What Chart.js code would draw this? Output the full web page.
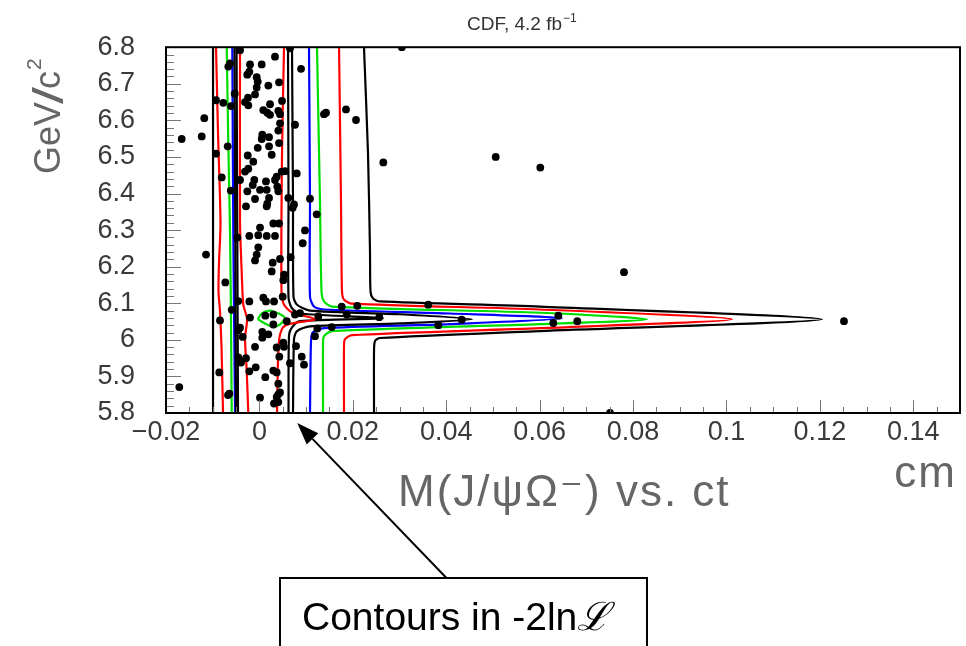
<!DOCTYPE html>
<html><head><meta charset="utf-8">
<script src="https://cdn.jsdelivr.net/npm/chart.js@4.4.1/dist/chart.umd.min.js"></script>
<style>html,body{margin:0;padding:0;background:#fff;overflow:hidden}#wrap{width:966px;height:646px;position:relative}</style>
</head><body><div id="wrap"><canvas id="c" width="966" height="646"></canvas></div>
<script>
// ---------- tick labels ----------
const xTickValues = [-0.02, 0, 0.02, 0.04, 0.06, 0.08, 0.1, 0.12, 0.14];
const xTickLabels = ['\u22120.02', '0', '0.02', '0.04', '0.06', '0.08', '0.1', '0.12', '0.14'];
const yTickValues = [5.8, 5.9, 6, 6.1, 6.2, 6.3, 6.4, 6.5, 6.6, 6.7, 6.8];
const yTickLabels = ['5.8', '5.9', '6', '6.1', '6.2', '6.3', '6.4', '6.5', '6.6', '6.7', '6.8'];

// ---------- candidate events: ct (cm) and mass (GeV/c^2) ----------
const eventCt = [
-0.00415,0.00334,-0.00629,-0.00666,-0.00201,0.00049,0.00891,-0.00216,-0.00259,-0.00058,
-0.00036,0.0042,0.00191,-0.00058,-0.00529,-0.00094,-0.00929,-0.00244,-0.00308,-0.00773,
0.00484,-0.00608,-0.00238,0.00227,0.00083,0.00169,0.00227,0.00405,0.00441,-0.0118,
0.00441,0.00762,0.00405,0.00062,0.00206,0.00049,-0.01664,-0.01235,0.0042,-0.00036,
0.00206,-0.00679,-0.00929,0.00263,-0.0025,-0.00131,-0.00238,-0.00308,0.00548,0.00477,
0.00799,-0.00807,-0.00415,-0.00109,0.0037,0.00334,0.00141,-0.00143,0.00383,0.00013,
0.00156,-0.00614,-0.00259,0.00405,0.00619,0.01083,-0.00094,0.00206,0.00169,0.00156,
0.00741,-0.00287,0.00713,0.01227,0.00298,0.0042,0.00013,0.00976,
-0.00473,-0.00216,-0.00024,0.00156,0.00334,0.00927,-0.00024,-0.01143,-0.00058,-0.00094,
0.0067,0.00441,0.00285,0.00263,0.00527,0.00512,-0.0073,-0.00452,-0.00216,0.00083,
0.00141,0.00313,-0.00593,-0.00201,0.00126,0.00298,-0.00844,0.00298,0.00585,-0.00415,
-0.00452,0.00062,0.00191,0.00062,-0.00358,0.0119,-0.00094,0.0037,0.00527,0.00784,
0.00426,-0.00452,-0.00287,-0.00394,0.00655,0.00906,0.00955,-0.00079,-0.00216,0.00298,
0.0037,-0.00859,0.00126,0.00405,-0.01715,-0.00644,0.00013,0.00405,0.0037,0.00441,
0.00313,0.00405,
0.00499,0.01762,0.02096,0.03616,0.00762,0.00869,0.01261,0.01869,0.02567,0.04331,
0.064,0.06293,0.0383,0.0124,0.01548,0.00512,
0.06806,0.12516,
0.0305,0.01383,0.01426,0.01854,0.02068,0.02653,0.05059,0.06014,
0.07806,0.07506,0.00655,-0.00672
];
const eventMass = [
6.792,6.774,6.756,6.747,6.753,6.753,6.741,6.733,6.725,6.718,
6.706,6.704,6.695,6.690,6.673,6.671,6.655,6.662,6.650,6.648,
6.653,6.639,6.641,6.644,6.628,6.621,6.615,6.626,6.617,6.606,
6.592,6.588,6.572,6.561,6.554,6.549,6.549,6.556,6.538,6.525,
6.529,6.529,6.509,6.506,6.504,6.487,6.468,6.460,6.461,6.460,
6.455,6.444,6.437,6.437,6.446,6.437,6.433,6.423,6.419,6.410,
6.410,6.408,6.406,6.406,6.388,6.386,6.385,6.388,6.372,6.365,
6.370,6.365,6.361,6.343,6.318,6.318,6.307,6.299,
6.280,6.284,6.286,6.284,6.284,6.264,6.253,6.233,6.233,6.217,
6.226,6.221,6.211,6.187,6.178,6.163,6.157,6.106,6.105,6.115,
6.105,6.105,6.082,6.061,6.066,6.069,6.053,6.042,6.051,6.033,
6.026,6.022,6.015,6.006,6.008,6.010,5.981,5.979,5.981,5.983,
5.954,5.952,5.950,5.938,5.936,5.954,5.932,5.925,5.914,5.916,
5.911,5.911,5.898,5.880,5.871,5.853,5.842,5.851,5.844,5.856,
5.826,5.830,
6.118,6.091,6.093,6.096,6.069,6.073,6.064,6.069,6.062,6.055,
6.066,6.046,6.040,6.031,6.035,5.992,
6.051,6.051,
6.8,6.617,6.621,6.630,6.601,6.485,6.500,6.471,
6.185,5.8,6.797,5.849
];

// ---------- -2lnL contour lines (ct, mass) ----------
// right-hand branches with the spike at the signal mass
const cR1Ct   = [0.00527,0.00484,0.00473,0.00527,0.00698,0.01212,0.00698,0.00505,0.0042,0.00388,0.00377];
const cR1Mass = [6.8,6.509,6.132,6.096,6.075,6.056,6.045,6.034,5.997,5.889,5.8];
const cR2Ct   = [0.00612,0.00623,0.00623,0.00698,0.00869,0.02646,0.00869,0.00698,0.00634,0.00623];
const cR2Mass = [6.8,6.374,6.115,6.086,6.072,6.059,6.051,6.034,6.013,5.8];
const cR3Ct   = [0.00698,0.00719,0.0073,0.00805,0.01083,0.0301,0.04555,0.0301,0.01083,0.00805,0.00741,0.00719];
const cR3Mass = [6.8,6.374,6.118,6.096,6.080,6.070,6.056,6.045,6.037,6.024,6.002,5.8];
const cR4Ct   = [0.01062,0.01083,0.01083,0.01169,0.01383,0.0408,0.06478,0.0408,0.01383,0.01148,0.01105,0.01083];
const cR4Mass = [6.8,6.374,6.118,6.091,6.083,6.072,6.059,6.043,6.032,6.021,5.997,5.8];
const cR5Ct   = [0.01233,0.01297,0.0133,0.01383,0.01554,0.06008,0.08298,0.06008,0.01554,0.01383,0.01362,0.01362];
const cR5Mass = [6.8,6.374,6.132,6.105,6.091,6.074,6.056,6.043,6.024,6.010,5.991,5.8];
const cR6Ct   = [0.01705,0.01747,0.01768,0.01811,0.01983,0.06008,0.10119,0.06008,0.01983,0.01832,0.01811,0.01811];
const cR6Mass = [6.8,6.374,6.132,6.110,6.099,6.083,6.056,6.032,6.013,6.002,5.983,5.8];
const cR7Ct   = [0.02239,0.02325,0.02368,0.02379,0.02432,0.02582,0.06008,0.12045,0.06008,0.02582,0.02475,0.02454,0.02454];
const cR7Mass = [6.8,6.509,6.239,6.132,6.113,6.105,6.091,6.056,6.024,6.005,5.997,5.970,5.8];
// left-hand branches
const cL1Ct   = [-0.00415,-0.00415,-0.00379,-0.00345,-0.00265,-0.00308,-0.00272,-0.00238];
const cL1Mass = [6.8,6.32,6.185,6.097,6.056,6.005,5.916,5.8];
const cL2Ct   = [-0.0049,-0.00458];
const cL2Mass = [6.8,5.8];
const cL3Ct   = [-0.00533,-0.00501];
const cL3Mass = [6.8,5.8];
const cL4Ct   = [-0.0058,-0.00559,-0.00522];
const cL4Mass = [6.8,6.293,5.8];
const cL5Ct   = [-0.007,-0.00666,-0.00629,-0.00608,-0.00593];
const cL5Mass = [6.8,6.536,6.293,6.051,5.8];
const cL6Ct   = [-0.00929,-0.00886,-0.00833,-0.00865,-0.00876,-0.00844,-0.00811,-0.00779];
const cL6Mass = [6.8,6.563,6.320,6.212,6.132,6.078,5.978,5.8];
const cL7Ct   = [-0.00993,-0.00993];
const cL7Mass = [6.8,5.8];
// innermost closed contour around the minimum
const cMinCt   = [-0.00036,0.00056,0.00227,0.00441,0.00548,0.00441,0.00298,0.00098,-0.00036];
const cMinMass = [6.057,6.073,6.080,6.070,6.060,6.042,6.035,6.046,6.057];

const xMinorStep = 0.005, xMajorStep = 0.02;
const yMinorStep = 0.02, yMajorStep = 0.1;

// ---------- build ----------
const RED = '#ff0000', GREEN = '#00dd00', BLUE = '#0000ff', BLACK = '#000000';
const pts = (xs, ys) => xs.map((x, i) => ({x: x, y: ys[i]}));
const lineSet = (xs, ys, color) => ({
  type: 'line', data: pts(xs, ys), borderColor: color, borderWidth: 2.2,
  pointRadius: 0, fill: false, tension: 0.25, showLine: true, order: 2
});
const datasets = [
  {type: 'scatter', data: pts(eventCt, eventMass), backgroundColor: '#000', borderColor: '#000',
   pointRadius: 3.9, borderWidth: 0, order: 1},
  lineSet(cMinCt, cMinMass, GREEN),
  lineSet(cR1Ct, cR1Mass, RED), lineSet(cL1Ct, cL1Mass, RED),
  lineSet(cR2Ct, cR2Mass, BLACK), lineSet(cL2Ct, cL2Mass, BLACK),
  lineSet(cR3Ct, cR3Mass, BLACK), lineSet(cL3Ct, cL3Mass, BLACK),
  lineSet(cR4Ct, cR4Mass, BLUE), lineSet(cL4Ct, cL4Mass, BLUE),
  lineSet(cR5Ct, cR5Mass, GREEN), lineSet(cL5Ct, cL5Mass, GREEN),
  lineSet(cR6Ct, cR6Mass, RED), lineSet(cL6Ct, cL6Mass, RED),
  lineSet(cR7Ct, cR7Mass, BLACK), lineSet(cL7Ct, cL7Mass, BLACK)
];

const FONT = '"Liberation Sans", Arial, "DejaVu Sans", sans-serif';

const decor = {
  id: 'decor',
  afterDatasetsDraw(chart) {
    const {ctx, chartArea: a, scales: {x, y}} = chart;
    ctx.save();
    // inside tick marks
    ctx.strokeStyle = '#777'; ctx.lineWidth = 1;
    ctx.beginPath();
    for (let v = x.min, k = 0; v <= x.max + 1e-9; k++, v = x.min + k * xMinorStep) {
      const px = Math.round(x.getPixelForValue(v)) + 0.5;
      const major = (k % Math.round(xMajorStep / xMinorStep)) === 0;
      ctx.moveTo(px, a.bottom); ctx.lineTo(px, a.bottom - (major ? 13 : 6));
    }
    for (let v = y.min, k = 0; v <= y.max + 1e-9; k++, v = y.min + k * yMinorStep) {
      const py = Math.round(y.getPixelForValue(v)) + 0.5;
      const major = (k % Math.round(yMajorStep / yMinorStep)) === 0;
      ctx.moveTo(a.left, py); ctx.lineTo(a.left + (major ? 15 : 8), py);
    }
    ctx.stroke();
    // frame
    ctx.strokeStyle = '#000'; ctx.lineWidth = 2;
    ctx.strokeRect(a.left, a.top, a.right - a.left, a.bottom - a.top);
    ctx.restore();
  },
  afterDraw(chart) {
    const {ctx, chartArea: a, scales: {x, y}} = chart;
    ctx.save();
    // top-right title
    ctx.fillStyle = '#333';
    ctx.textBaseline = 'alphabetic'; ctx.textAlign = 'left';
    ctx.font = '19px ' + FONT;
    const t1 = 'CDF, 4.2 fb';
    const tx = 467, ty = 30;
    ctx.fillText(t1, tx, ty);
    const w1 = ctx.measureText(t1).width;
    ctx.font = '12px ' + FONT;
    ctx.fillText('\u22121', tx + w1 + 1, ty - 8);

    // y-axis title (rotated)
    ctx.save();
    ctx.translate(60, 174);
    ctx.rotate(-Math.PI / 2);
    ctx.fillStyle = '#666';
    ctx.font = '36px ' + FONT;
    let cx = 0;
    ctx.fillText('GeV', cx, 0); cx += ctx.measureText('GeV').width - 2;
    ctx.save(); ctx.translate(cx, 3); ctx.scale(1.6, 1.12);
    ctx.font = '38px ' + FONT;
    ctx.fillText('/', 0, 0); const ws = ctx.measureText('/').width * 1.6; ctx.restore();
    cx += ws - 2;
    ctx.font = '36px ' + FONT;
    ctx.fillText('c', cx, 0); cx += ctx.measureText('c').width + 1;
    ctx.font = '21px ' + FONT;
    ctx.fillText('2', cx, -19);
    ctx.restore();

    // x-axis title
    ctx.fillStyle = '#666';
    ctx.font = '44px ' + FONT;
    ctx.textAlign = 'left';
    if ('letterSpacing' in ctx) ctx.letterSpacing = '2px';
    const xt = 'M(J/\u03c8\u03a9\u207b) vs. ct';
    ctx.fillText(xt, 398, 506);
    ctx.textAlign = 'right';
    ctx.fillText('cm', 957, 487);
    if ('letterSpacing' in ctx) ctx.letterSpacing = '0px';

    // annotation box
    ctx.strokeStyle = '#000'; ctx.lineWidth = 2;
    ctx.fillStyle = '#fff';
    ctx.fillRect(280, 578, 367, 70);
    ctx.strokeRect(280, 578, 367, 70);
    ctx.fillStyle = '#000';
    ctx.textAlign = 'left';
    ctx.font = '39px ' + FONT;
    const at = 'Contours in -2ln';
    ctx.fillText(at, 302, 630);
    const aw = ctx.measureText(at).width;
    ctx.font = 'italic 39px "DejaVu Serif", serif';
    ctx.fillText('\u2112', 302 + aw, 630);

    // arrow to the contour bundle
    const tipX = x.getPixelForValue(0.0081), tipY = a.bottom + 10;
    const tailX = 446.5, tailY = 578;
    const ang = Math.atan2(tipY - tailY, tipX - tailX);
    const hl = 22, hw = 8;
    const bx = tipX - hl * Math.cos(ang), by = tipY - hl * Math.sin(ang);
    ctx.beginPath(); ctx.moveTo(tailX, tailY); ctx.lineTo(bx, by); ctx.stroke();
    ctx.beginPath();
    ctx.moveTo(tipX, tipY);
    ctx.lineTo(bx + hw * Math.sin(ang), by - hw * Math.cos(ang));
    ctx.lineTo(bx - hw * Math.sin(ang), by + hw * Math.cos(ang));
    ctx.closePath(); ctx.fill();
    ctx.restore();
  }
};

new Chart(document.getElementById('c'), {
  type: 'scatter',
  data: {datasets: datasets},
  options: {
    responsive: false, animation: false, events: [],
    layout: {padding: {left: 0, top: 42, right: 6, bottom: 0}},
    plugins: {legend: {display: false}, tooltip: {enabled: false}},
    scales: {
      x: {
        type: 'linear', min: -0.02, max: 0.15,
        afterBuildTicks: s => { s.ticks = xTickValues.map(v => ({value: v})); },
        afterFit: s => { s.height = 233; },
        grid: {display: false, drawTicks: false}, border: {display: false},
        ticks: {autoSkip: false, maxRotation: 0, padding: 3, color: '#3a3a3a',
                font: {family: FONT, size: 27},
                callback: v => xTickLabels[xTickValues.indexOf(v)]}
      },
      y: {
        type: 'linear', min: 5.8, max: 6.8,
        afterBuildTicks: s => { s.ticks = yTickValues.map(v => ({value: v})); },
        afterFit: s => { s.width = 166; },
        grid: {display: false, drawTicks: false}, border: {display: false},
        ticks: {autoSkip: false, padding: 31, color: '#3a3a3a',
                font: {family: FONT, size: 27},
                callback: v => yTickLabels[yTickValues.indexOf(v)]}
      }
    }
  },
  plugins: [decor]
});
</script>
</body></html>
